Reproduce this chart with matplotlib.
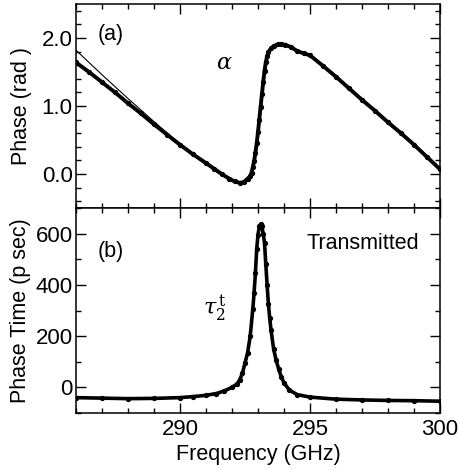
import matplotlib
matplotlib.use("Agg")
import matplotlib.pyplot as plt
from matplotlib.ticker import MultipleLocator, FormatStrFormatter

plt.rcParams['font.family'] = ['Liberation Sans', 'DejaVu Sans']
plt.rcParams['mathtext.fontset'] = 'dejavuserif'

# ---- data ----
phase_freq = [286.0, 286.5, 287.0, 287.5, 288.0, 288.5, 289.0, 289.5, 290.0, 290.5,
              291.0, 291.3, 291.6, 291.9, 292.1, 292.3, 292.45, 292.6, 292.7, 292.75,
              292.8, 292.85, 292.9, 292.95, 293.0, 293.05, 293.1, 293.15, 293.2, 293.25,
              293.3, 293.35, 293.4, 293.5, 293.6, 293.75, 293.9, 294.05, 294.25, 294.5,
              294.75, 295.0, 295.5, 296.0, 296.5, 297.0, 297.5, 298.0, 298.5, 299.0,
              299.5, 300.0]
phase_rad = [1.64, 1.50, 1.35, 1.20, 1.04, 0.89, 0.73, 0.58, 0.43, 0.29,
             0.16, 0.08, 0.00, -0.07, -0.11, -0.13, -0.12, -0.07, -0.03, 0.02,
             0.10, 0.19, 0.31, 0.45, 0.62, 0.80, 0.99, 1.17, 1.35, 1.52,
             1.64, 1.73, 1.79, 1.85, 1.88, 1.905, 1.91, 1.90, 1.87, 1.81,
             1.775, 1.745, 1.59, 1.43, 1.26, 1.09, 0.93, 0.76, 0.60, 0.43,
             0.25, 0.07]

thin_freq = [286.0, 287.0, 288.0, 289.0, 290.0, 290.5]
thin_rad = [1.82, 1.46, 1.11, 0.77, 0.44, 0.29]

time_freq = [286.0, 287.0, 288.0, 289.0, 290.0, 290.5, 291.0, 291.4, 291.7, 292.0,
             292.2, 292.3, 292.4, 292.5, 292.6, 292.7, 292.8, 292.85, 292.9, 292.95,
             293.0, 293.05, 293.1, 293.15, 293.2, 293.25, 293.3, 293.35, 293.4, 293.45,
             293.5, 293.6, 293.7, 293.8, 293.9, 294.0, 294.2, 294.5, 295.0, 296.0,
             297.0, 298.0, 299.0, 300.0]
time_ps = [-40, -42, -44, -43, -40, -36, -31, -24, -14, 0,
           14, 30, 55, 95, 135, 200, 305, 370, 445, 540,
           595, 628, 637, 628, 600, 565, 480, 400, 325, 270,
           225, 150, 105, 70, 40, 18, -10, -28, -38, -46,
           -49, -51, -52, -54]

x_ticks = [290, 295, 300]
x_tick_labels = ["290", "295", "300"]

fig = plt.figure(figsize=(4.58, 4.70), dpi=100)
L, R = 76 / 458, 440 / 458
y_top, y_mid, y_bot = 1 - 4 / 470, 1 - 208 / 470, 1 - 413 / 470
ax1 = fig.add_axes([L, y_mid, R - L, y_top - y_mid])
ax2 = fig.add_axes([L, y_bot, R - L, y_mid - y_bot], sharex=ax1)

for ax in (ax1, ax2):
    for s in ax.spines.values():
        s.set_linewidth(1.1)
    ax.tick_params(which='both', direction='in', top=True, right=True,
                   labelsize=16, width=1.0, pad=2.5)
    ax.tick_params(which='major', length=7)
    ax.tick_params(which='minor', length=3.6)
    ax.xaxis.set_major_locator(MultipleLocator(5))
    ax.xaxis.set_minor_locator(MultipleLocator(1))

# panel (a)
ax1.plot(thin_freq, thin_rad, color='black', lw=0.8)
ax1.plot(phase_freq, phase_rad, color='black', lw=2.8, marker='o', ms=2.8)
ax1.set_xlim(286, 300)
ax1.set_ylim(-0.5, 2.5)
ax1.yaxis.set_major_locator(MultipleLocator(1.0))
ax1.yaxis.set_minor_locator(MultipleLocator(0.2))
ax1.yaxis.set_major_formatter(FormatStrFormatter('%.1f'))
ax1.tick_params(labelbottom=False)
ax1.set_ylabel('Phase (rad )', fontsize=15.5, labelpad=7)
ax1.text(286.85, 2.05, '(a)', fontsize=15.5, ha='left', va='center')
ax1.text(291.7, 1.63, r'$\alpha$', fontsize=16, ha='center', va='center')

# panel (b)
ax2.plot(time_freq, time_ps, color='black', lw=2.6, marker='o', ms=2.8)
ax2.set_ylim(-100, 700)
ax2.yaxis.set_major_locator(MultipleLocator(200))
ax2.yaxis.set_minor_locator(MultipleLocator(100))
ax2.set_xticks(x_ticks)
ax2.set_xticklabels(x_tick_labels)
ax2.tick_params(axis='x', pad=4)
ax2.set_ylabel('Phase Time (p sec)', fontsize=15.5, labelpad=3)
ax2.set_xlabel('Frequency (GHz)', fontsize=15.5, labelpad=3)
ax2.text(286.85, 531, '(b)', fontsize=15.5, ha='left', va='center')
ax2.text(294.85, 563, 'Transmitted', fontsize=15.5, ha='left', va='center')
ax2.text(291.35, 305, r'$\tau_{2}^{\,\mathrm{t}}$', fontsize=16, ha='center', va='center')

fig.savefig('out.png', dpi=100)
